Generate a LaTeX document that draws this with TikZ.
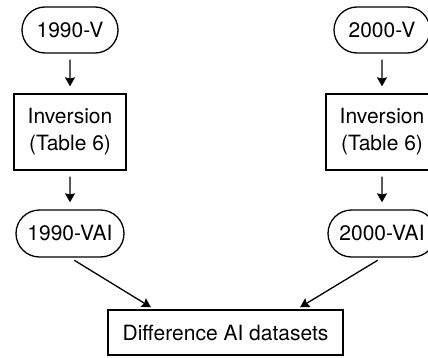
\documentclass[tikz,border=0pt]{standalone}
\usepackage{fontspec}
\setmainfont{TeX Gyre Heros}
\usetikzlibrary{shapes.misc,arrows.meta}
\begin{document}
\begin{tikzpicture}[x=0.5pt,y=-0.5pt,
  font=\fontsize{10.5}{13.5}\selectfont,
  line width=0.65pt,
  every node/.style={draw,inner sep=0pt,align=center},
  term/.style={rounded rectangle,minimum width=48pt,minimum height=23pt},
  proc/.style={rectangle,minimum width=56pt,minimum height=38pt},
  flow/.style={-{Stealth[length=4.5pt,width=5pt,inset=0.6pt]},shorten <=3pt,shorten >=3.5pt}]
  \useasboundingbox (0,0) rectangle (428,358);
  \clip (0,0) rectangle (428,358);

  % left chain
  \node[term] (v90) at (70,30) {1990-V};
  \node[proc] (inv90) at (70,132) {Inversion\\(Table 6)};
  \node[term,minimum width=54pt,minimum height=23.5pt] (vai90) at (70,233.5) {1990-VAI};

  % right chain
  \node[term] (v00) at (382,30) {2000-V};
  \node[proc] (inv00) at (382,132) {Inversion\\(Table 6)};
  \node[term,minimum width=54pt,minimum height=23.5pt] (vai00) at (382,233.5) {2000-VAI};

  % merged result
  \node[rectangle,minimum width=117.5pt,minimum height=22.5pt] (diff) at (225.5,332.5) {Difference AI datasets};

  \draw[flow] (v90) -- (inv90);
  \draw[flow] (inv90) -- (vai90);
  \draw[flow] (v00) -- (inv00);
  \draw[flow] (inv00) -- (vai00);
  \draw[flow,shorten <=2.5pt,shorten >=2pt] (vai90.south) -- ([xshift=23.5pt]diff.north west);
  \draw[flow,shorten <=2.5pt,shorten >=2pt] (vai00.south) -- ([xshift=-23.5pt]diff.north east);
\end{tikzpicture}
\end{document}
